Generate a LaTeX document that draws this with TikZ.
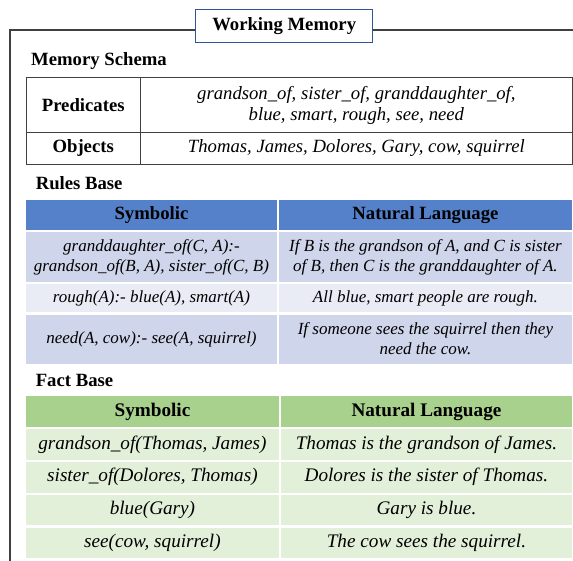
\documentclass[tikz,border=0pt]{standalone}
\usepackage{fontspec}
\setmainfont{Liberation Serif}
\definecolor{framegray}{RGB}{64,64,64}
\definecolor{titleblue}{RGB}{47,85,151}
\definecolor{ruleshead}{RGB}{84,129,202}
\definecolor{rulesdark}{RGB}{207,213,234}
\definecolor{ruleslight}{RGB}{233,235,245}
\definecolor{facthead}{RGB}{169,209,142}
\definecolor{factrow}{RGB}{226,239,217}
\newcommand{\wmsize}{\fontsize{18.7}{21}\selectfont}
\newcommand{\rulesize}{\fontsize{17}{20}\selectfont}
\newcommand{\factsize}{\fontsize{19.2}{21}\selectfont}
\begin{document}
\begin{tikzpicture}[x=1pt,y=-1pt,
title/.style={
% The shape:
rectangle,
draw=titleblue,
line width=1.3pt,
fill=white,
minimum width=177pt,
minimum height=33pt,
font=\wmsize\bfseries
},
heading/.style={
anchor=base west,
inner sep=0pt,
font=\wmsize\bfseries
},
schema/.style={
rectangle,
draw=framegray,
line width=1.2pt,
inner sep=0pt,
align=center
},
head/.style={
rectangle,inner sep=0pt,
font=\wmsize\bfseries
},
cell/.style={
rectangle,inner sep=0pt,align=center,
font=\rulesize\itshape
},
table/.style={anchor=north west,inner sep=0pt,column sep=2pt,row sep=2pt}
]
\useasboundingbox (0,0) rectangle (573,560);
\clip (0,0) rectangle (573,560);
% Outer frame:
\coordinate (frame tl) at (10,30);
\coordinate (frame tr) at (590,30);
\coordinate (frame bl) at (10,590);
\draw [framegray,line width=2pt] (frame tr) -- (frame tl) -- (frame bl);
\node (wm) [title] at (284.2,25.8) {Working Memory};
% Memory schema:
\node (schemalabel) [heading] at (31,65) {Memory Schema};
\matrix (schema) [anchor=north west,inner sep=0pt,column sep=-1.2pt,row sep=-1.2pt] at (25.4,77) {
\node (predicates) [schema,minimum width=114pt,minimum height=54.5pt,font=\wmsize\bfseries] {Predicates}; & \node (predlist) [schema,minimum width=432.4pt,minimum height=54.5pt,font=\wmsize\itshape] {grandson\_of, sister\_of, granddaughter\_of,\\blue, smart, rough, see, need}; \\
\node (objects) [schema,minimum width=114pt,minimum height=32pt,font=\wmsize\bfseries] {Objects}; & \node (objlist) [schema,minimum width=432.4pt,minimum height=32pt,font=\wmsize\itshape] {Thomas, James, Dolores, Gary, cow, squirrel}; \\
};
% Rules base:
\node (ruleslabel) [heading] at (35.6,189.3) {Rules Base};
\matrix (rules) [table] at (26,199.5) {
\node (rsym) [head,fill=ruleshead,minimum width=250.5pt,minimum height=30pt] {Symbolic}; & \node (rnat) [head,fill=ruleshead,minimum width=293.5pt,minimum height=30pt] {Natural Language}; \\
\node (rgd) [cell,fill=rulesdark,minimum width=250.5pt,minimum height=50pt] {granddaughter\_of(C, A):-\\grandson\_of(B, A), sister\_of(C, B)}; & \node (rgdtext) [cell,fill=rulesdark,minimum width=293.5pt,minimum height=50pt] {If B is the grandson of A, and C is sister\\of B, then C is the granddaughter of A.}; \\
\node (rrough) [cell,fill=ruleslight,minimum width=250.5pt,minimum height=28pt] {rough(A):- blue(A), smart(A)}; & \node (rroughtext) [cell,fill=ruleslight,minimum width=293.5pt,minimum height=28pt] {All blue, smart people are rough.}; \\
\node (rneed) [cell,fill=rulesdark,minimum width=250.5pt,minimum height=49pt] {need(A, cow):- see(A, squirrel)}; & \node (rneedtext) [cell,fill=rulesdark,minimum width=293.5pt,minimum height=49pt] {If someone sees the squirrel then they\\need the cow.}; \\
};
% Fact base:
\node (factlabel) [heading] at (35.6,386) {Fact Base};
\matrix (facts) [table,every node/.append style={font=\factsize\itshape}] at (26,396) {
\node (fsym) [head,fill=facthead,minimum width=252.5pt,minimum height=30.5pt,font=\factsize\bfseries] {Symbolic}; & \node (fnat) [head,fill=facthead,minimum width=291.5pt,minimum height=30.5pt,font=\factsize\bfseries] {Natural Language}; \\
\node (fgs) [cell,fill=factrow,minimum width=252.5pt,minimum height=30.6pt,font=\factsize\itshape] {grandson\_of(Thomas, James)}; & \node (fgstext) [cell,fill=factrow,minimum width=291.5pt,minimum height=30.6pt,font=\factsize\itshape] {Thomas is the grandson of James.}; \\
\node (fsis) [cell,fill=factrow,minimum width=252.5pt,minimum height=30.6pt,font=\factsize\itshape] {sister\_of(Dolores, Thomas)}; & \node (fsistext) [cell,fill=factrow,minimum width=291.5pt,minimum height=30.6pt,font=\factsize\itshape] {Dolores is the sister of Thomas.}; \\
\node (fblue) [cell,fill=factrow,minimum width=252.5pt,minimum height=30.6pt,font=\factsize\itshape] {blue(Gary)}; & \node (fbluetext) [cell,fill=factrow,minimum width=291.5pt,minimum height=30.6pt,font=\factsize\itshape] {Gary is blue.}; \\
\node (fsee) [cell,fill=factrow,minimum width=252.5pt,minimum height=30.6pt,font=\factsize\itshape] {see(cow, squirrel)}; & \node (fseetext) [cell,fill=factrow,minimum width=291.5pt,minimum height=30.6pt,font=\factsize\itshape] {The cow sees the squirrel.}; \\
};
\end{tikzpicture}
\end{document}
